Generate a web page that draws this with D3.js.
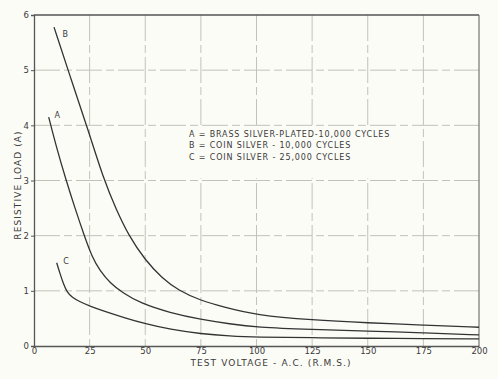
<!DOCTYPE html>
<html><head><meta charset="utf-8">
<script src="https://cdn.jsdelivr.net/npm/d3@7"></script>
<style>
body{margin:0;background:#fcfcf7;}
svg{display:block;}
text{font-family:"DejaVu Sans",sans-serif;fill:#3a3a3a;}
</style></head><body>
<svg id="c" width="498" height="379"></svg>
<script>
const xTicks = [0,25,50,75,100,125,150,175,200];
const yTicks = [0,1,2,3,4,5,6];
const curveA = [[6.6,4.15],[10.3,3.57],[14.4,3.01],[18.4,2.50],[22.5,2.01],[26.1,1.61],[29.7,1.36],[34.2,1.14],[40.0,0.96],[47.6,0.78],[61.1,0.60],[75.1,0.48],[88.1,0.40],[99.8,0.34],[124.9,0.30],[150.1,0.27],[174.8,0.24],[200,0.20]];
const curveB = [[9.0,5.78],[16.6,4.84],[24.3,3.92],[31.5,3.00],[36.9,2.48],[42.7,1.99],[49.9,1.56],[57.5,1.23],[65.2,1.00],[74.6,0.83],[84.9,0.71],[99.8,0.56],[124.9,0.47],[150.1,0.42],[174.8,0.38],[200,0.34]];
const curveC = [[10.2,1.51],[11.7,1.31],[13.3,1.12],[14.8,0.98],[17.1,0.88],[20.7,0.80],[24.7,0.73],[31.9,0.625],[40.9,0.51],[49.9,0.405],[61.1,0.30],[75.1,0.22],[88.1,0.18],[99.8,0.16],[124.9,0.15],[150.1,0.14],[174.8,0.135],[200,0.13]];
const seriesNames = ["A","B","C"];
const legendLines = ["A = BRASS SILVER-PLATED-10,000 CYCLES","B = COIN SILVER - 10,000 CYCLES","C = COIN SILVER - 25,000 CYCLES"];
const xTitle = "TEST VOLTAGE - A.C. (R.M.S.)";
const yTitle = "RESISTIVE LOAD (A)";

const svg = d3.select("#c");
const L=34,R=479,T=15,B=346;
const x = d3.scaleLinear().domain([0,200]).range([L,R]);
const y = d3.scaleLinear().domain([0,6]).range([B,T]);

// grid
const g = svg.append("g");
g.selectAll(".vg").data(xTicks.filter(d=>d>0&&d<200)).join("line")
  .attr("x1",d=>x(d)).attr("x2",d=>x(d)).attr("y1",T).attr("y2",B)
  .attr("stroke","#c2c2ba").attr("stroke-width",1).attr("stroke-dasharray","26,4,8,4");
g.selectAll(".hg").data(yTicks.filter(d=>d>0&&d<6)).join("line")
  .attr("x1",L).attr("x2",R).attr("y1",d=>y(d)).attr("y2",d=>y(d))
  .attr("stroke","#c2c2ba").attr("stroke-width",1).attr("stroke-dasharray","26,4,8,4");

// legend background
svg.append("rect").attr("x",x(66)).attr("y",y(3.98)).attr("width",x(165)-x(66)).attr("height",y(3.04)-y(3.98)).attr("fill","#fcfcf7");

// frame
svg.append("line").attr("x1",L).attr("x2",R).attr("y1",T).attr("y2",T).attr("stroke","#555").attr("stroke-width",1.3);
svg.append("line").attr("x1",R).attr("x2",R).attr("y1",T).attr("y2",B).attr("stroke","#666").attr("stroke-width",1.1);

// axes
const xa = svg.append("g").attr("transform",`translate(0,${B})`)
  .call(d3.axisBottom(x).tickValues(xTicks).tickSize(0).tickPadding(2).tickFormat(d3.format("d")));
const ya = svg.append("g").attr("transform",`translate(${L},0)`)
  .call(d3.axisLeft(y).tickValues(yTicks).tickSize(3).tickPadding(2).tickFormat(d3.format("d")));
[xa,ya].forEach(a=>{
  a.select(".domain").attr("stroke","#555").attr("stroke-width",1.3);
  a.selectAll(".tick line").attr("stroke","#555");
  a.selectAll("text").style("font-family","DejaVu Sans, sans-serif").attr("font-size",8.5).attr("fill","#3a3a3a");
});

// curves
const line = d3.line().x(d=>x(d[0])).y(d=>y(d[1])).curve(d3.curveBasis);
[curveA,curveB,curveC].forEach(c=>{
  svg.append("path").attr("d",line(c)).attr("fill","none").attr("stroke","#333").attr("stroke-width",1.3);
});

// curve labels
const labelPos = [[curveA[0][0]+2.6,curveA[0][1]+0.04],[curveB[0][0]+3.8,curveB[0][1]-0.12],[curveC[0][0]+3,curveC[0][1]+0.02]];
seriesNames.forEach((n,i)=>{
  svg.append("text").attr("x",x(labelPos[i][0])).attr("y",y(labelPos[i][1])).attr("dy","0.35em")
    .attr("font-size",8).text(n);
});

// legend text
legendLines.forEach((t,i)=>{
  svg.append("text").attr("x",189).attr("y",137+i*11.3).attr("font-size",8)
    .attr("letter-spacing",0.85).text(t);
});

// titles
svg.append("text").attr("x",271).attr("y",366).attr("text-anchor","middle")
  .attr("font-size",9).attr("letter-spacing",1.1).text(xTitle);
svg.append("text").attr("transform","translate(21,185) rotate(-90)").attr("text-anchor","middle")
  .attr("font-size",9).attr("letter-spacing",1.1).text(yTitle);
</script></body></html>
